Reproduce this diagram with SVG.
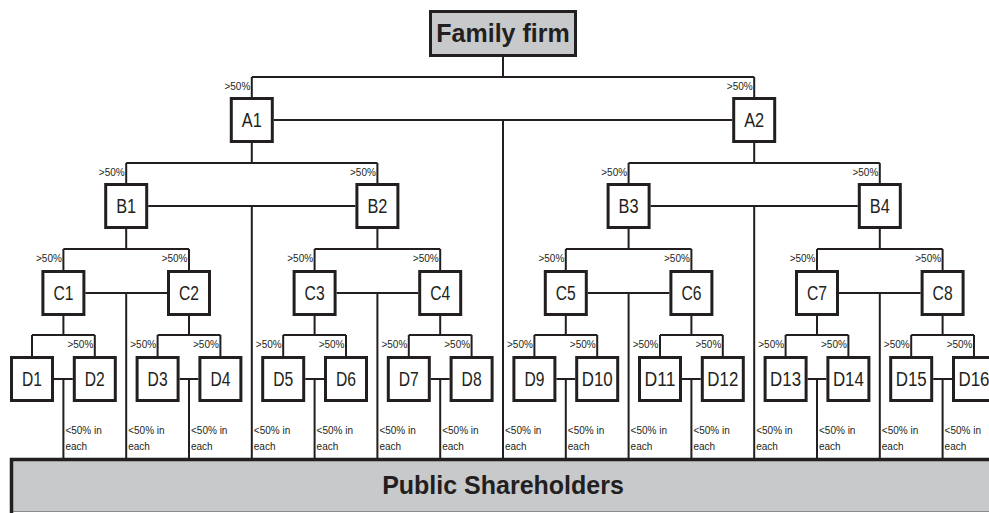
<svg xmlns="http://www.w3.org/2000/svg" width="989" height="513" viewBox="0 0 989 513">
<style>
.box{fill:#fff;stroke:#231f20;stroke-width:3}
.grey{fill:#c8c9cb;stroke:#231f20;stroke-width:3}
.ln{fill:none;stroke:#231f20;stroke-width:2}
.nl{font-family:"Liberation Sans",Arial,sans-serif;font-size:20px;fill:#231f20;text-anchor:middle}
.big{font-family:"Liberation Sans",Arial,sans-serif;font-size:25px;font-weight:bold;fill:#231f20;text-anchor:middle}
.pct{font-family:"Liberation Sans",Arial,sans-serif;font-size:10px;fill:#231f20;text-anchor:end}
.lt{font-family:"Liberation Sans",Arial,sans-serif;font-size:10px;fill:#231f20}
</style>
<rect width="989" height="513" fill="#fff"/>
<g id="connectors">
<path class="ln" d="M503 57V77M251.8 77H754.2M251.8 77V97M754.2 77V97M273.8 120H732.2M503 120V458"/>
<path class="ln" d="M251.8 143V163M126.2 163H377.4M126.2 163V183M377.4 163V183M754.2 143V163M628.6 163H879.8M628.6 163V183M879.8 163V183"/>
<path class="ln" d="M148.2 206H355.4M251.8 206V458M650.6 206H857.8M754.2 206V458"/>
<path class="ln" d="M126.2 229V249M63.4 249H189M63.4 249V270M189 249V270M377.4 229V249M314.6 249H440.2M314.6 249V270M440.2 249V270M628.6 229V249M565.8 249H691.4M565.8 249V270M691.4 249V270M879.8 229V249M817 249H942.6M817 249V270M942.6 249V270"/>
<path class="ln" d="M85.4 293H167M126.2 293V458M336.6 293H418.2M377.4 293V458M587.8 293H669.4M628.6 293V458M839 293H920.6M879.8 293V458"/>
<path class="ln" d="M63.4 316V335M32 335H94.8M32 335V356M94.8 335V356M189 316V335M157.6 335H220.4M157.6 335V356M220.4 335V356M314.6 316V335M283.2 335H346M283.2 335V356M346 335V356M440.2 316V335M408.8 335H471.6M408.8 335V356M471.6 335V356M565.8 316V335M534.4 335H597.2M534.4 335V356M597.2 335V356M691.4 316V335M660 335H722.8M660 335V356M722.8 335V356M817 316V335M785.6 335H848.4M785.6 335V356M848.4 335V356M942.6 316V335M911.2 335H974M911.2 335V356M974 335V356"/>
<path class="ln" d="M54 379H72.8M63.4 379V458M179.6 379H198.4M189 379V458M305.2 379H324M314.6 379V458M430.8 379H449.6M440.2 379V458M556.4 379H575.2M565.8 379V458M682 379H700.8M691.4 379V458M807.6 379H826.4M817 379V458M933.2 379H952M942.6 379V458"/>
</g>
<g id="ownership-labels">
<text class="pct" x="250.3" y="89.5">&gt;50%</text><text class="pct" x="752.7" y="89.5">&gt;50%</text>
<text class="pct" x="124.7" y="175.5">&gt;50%</text><text class="pct" x="375.9" y="175.5">&gt;50%</text><text class="pct" x="627.1" y="175.5">&gt;50%</text><text class="pct" x="878.3" y="175.5">&gt;50%</text>
<text class="pct" x="61.9" y="261.5">&gt;50%</text><text class="pct" x="187.5" y="261.5">&gt;50%</text><text class="pct" x="313.1" y="261.5">&gt;50%</text><text class="pct" x="438.7" y="261.5">&gt;50%</text><text class="pct" x="564.3" y="261.5">&gt;50%</text><text class="pct" x="689.9" y="261.5">&gt;50%</text><text class="pct" x="815.5" y="261.5">&gt;50%</text><text class="pct" x="941.1" y="261.5">&gt;50%</text>
<text class="pct" x="93.3" y="348">&gt;50%</text><text class="pct" x="156.1" y="348">&gt;50%</text><text class="pct" x="218.9" y="348">&gt;50%</text><text class="pct" x="281.7" y="348">&gt;50%</text><text class="pct" x="344.5" y="348">&gt;50%</text><text class="pct" x="407.3" y="348">&gt;50%</text><text class="pct" x="470.1" y="348">&gt;50%</text><text class="pct" x="532.9" y="348">&gt;50%</text><text class="pct" x="595.7" y="348">&gt;50%</text><text class="pct" x="658.5" y="348">&gt;50%</text><text class="pct" x="721.3" y="348">&gt;50%</text><text class="pct" x="784.1" y="348">&gt;50%</text><text class="pct" x="846.9" y="348">&gt;50%</text><text class="pct" x="909.7" y="348">&gt;50%</text><text class="pct" x="972.5" y="348">&gt;50%</text>
<g class="lt">
<text x="65.4" y="434">&lt;50% in</text><text x="65.4" y="450">each</text>
<text x="128.2" y="434">&lt;50% in</text><text x="128.2" y="450">each</text>
<text x="191" y="434">&lt;50% in</text><text x="191" y="450">each</text>
<text x="253.8" y="434">&lt;50% in</text><text x="253.8" y="450">each</text>
<text x="316.6" y="434">&lt;50% in</text><text x="316.6" y="450">each</text>
<text x="379.4" y="434">&lt;50% in</text><text x="379.4" y="450">each</text>
<text x="442.2" y="434">&lt;50% in</text><text x="442.2" y="450">each</text>
<text x="505" y="434">&lt;50% in</text><text x="505" y="450">each</text>
<text x="567.8" y="434">&lt;50% in</text><text x="567.8" y="450">each</text>
<text x="630.6" y="434">&lt;50% in</text><text x="630.6" y="450">each</text>
<text x="693.4" y="434">&lt;50% in</text><text x="693.4" y="450">each</text>
<text x="756.2" y="434">&lt;50% in</text><text x="756.2" y="450">each</text>
<text x="819" y="434">&lt;50% in</text><text x="819" y="450">each</text>
<text x="881.8" y="434">&lt;50% in</text><text x="881.8" y="450">each</text>
<text x="944.6" y="434">&lt;50% in</text><text x="944.6" y="450">each</text>
</g>
</g>
<g id="family-firm"><rect class="grey" x="430.5" y="11.5" width="145" height="44"/><text class="big" x="503" y="42">Family firm</text></g>
<g id="A1"><rect class="box" x="231.3" y="98.5" width="41" height="43"/><text class="nl" x="251.8" y="126.5" textLength="20" lengthAdjust="spacingAndGlyphs">A1</text></g>
<g id="A2"><rect class="box" x="733.7" y="98.5" width="41" height="43"/><text class="nl" x="754.2" y="126.5" textLength="20" lengthAdjust="spacingAndGlyphs">A2</text></g>
<g id="B1"><rect class="box" x="105.7" y="184.5" width="41" height="43"/><text class="nl" x="126.2" y="212.5" textLength="20" lengthAdjust="spacingAndGlyphs">B1</text></g>
<g id="B2"><rect class="box" x="356.9" y="184.5" width="41" height="43"/><text class="nl" x="377.4" y="212.5" textLength="20" lengthAdjust="spacingAndGlyphs">B2</text></g>
<g id="B3"><rect class="box" x="608.1" y="184.5" width="41" height="43"/><text class="nl" x="628.6" y="212.5" textLength="20" lengthAdjust="spacingAndGlyphs">B3</text></g>
<g id="B4"><rect class="box" x="859.3" y="184.5" width="41" height="43"/><text class="nl" x="879.8" y="212.5" textLength="20" lengthAdjust="spacingAndGlyphs">B4</text></g>
<g id="C1"><rect class="box" x="42.9" y="271.5" width="41" height="43"/><text class="nl" x="63.4" y="299.5" textLength="20" lengthAdjust="spacingAndGlyphs">C1</text></g>
<g id="C2"><rect class="box" x="168.5" y="271.5" width="41" height="43"/><text class="nl" x="189" y="299.5" textLength="20" lengthAdjust="spacingAndGlyphs">C2</text></g>
<g id="C3"><rect class="box" x="294.1" y="271.5" width="41" height="43"/><text class="nl" x="314.6" y="299.5" textLength="20" lengthAdjust="spacingAndGlyphs">C3</text></g>
<g id="C4"><rect class="box" x="419.7" y="271.5" width="41" height="43"/><text class="nl" x="440.2" y="299.5" textLength="20" lengthAdjust="spacingAndGlyphs">C4</text></g>
<g id="C5"><rect class="box" x="545.3" y="271.5" width="41" height="43"/><text class="nl" x="565.8" y="299.5" textLength="20" lengthAdjust="spacingAndGlyphs">C5</text></g>
<g id="C6"><rect class="box" x="670.9" y="271.5" width="41" height="43"/><text class="nl" x="691.4" y="299.5" textLength="20" lengthAdjust="spacingAndGlyphs">C6</text></g>
<g id="C7"><rect class="box" x="796.5" y="271.5" width="41" height="43"/><text class="nl" x="817" y="299.5" textLength="20" lengthAdjust="spacingAndGlyphs">C7</text></g>
<g id="C8"><rect class="box" x="922.1" y="271.5" width="41" height="43"/><text class="nl" x="942.6" y="299.5" textLength="20" lengthAdjust="spacingAndGlyphs">C8</text></g>
<g id="D1"><rect class="box" x="11.5" y="357.5" width="41" height="43"/><text class="nl" x="32" y="385.5" textLength="20" lengthAdjust="spacingAndGlyphs">D1</text></g>
<g id="D2"><rect class="box" x="74.3" y="357.5" width="41" height="43"/><text class="nl" x="94.8" y="385.5" textLength="20" lengthAdjust="spacingAndGlyphs">D2</text></g>
<g id="D3"><rect class="box" x="137.1" y="357.5" width="41" height="43"/><text class="nl" x="157.6" y="385.5" textLength="20" lengthAdjust="spacingAndGlyphs">D3</text></g>
<g id="D4"><rect class="box" x="199.9" y="357.5" width="41" height="43"/><text class="nl" x="220.4" y="385.5" textLength="20" lengthAdjust="spacingAndGlyphs">D4</text></g>
<g id="D5"><rect class="box" x="262.7" y="357.5" width="41" height="43"/><text class="nl" x="283.2" y="385.5" textLength="20" lengthAdjust="spacingAndGlyphs">D5</text></g>
<g id="D6"><rect class="box" x="325.5" y="357.5" width="41" height="43"/><text class="nl" x="346" y="385.5" textLength="20" lengthAdjust="spacingAndGlyphs">D6</text></g>
<g id="D7"><rect class="box" x="388.3" y="357.5" width="41" height="43"/><text class="nl" x="408.8" y="385.5" textLength="20" lengthAdjust="spacingAndGlyphs">D7</text></g>
<g id="D8"><rect class="box" x="451.1" y="357.5" width="41" height="43"/><text class="nl" x="471.6" y="385.5" textLength="20" lengthAdjust="spacingAndGlyphs">D8</text></g>
<g id="D9"><rect class="box" x="513.9" y="357.5" width="41" height="43"/><text class="nl" x="534.4" y="385.5" textLength="20" lengthAdjust="spacingAndGlyphs">D9</text></g>
<g id="D10"><rect class="box" x="576.7" y="357.5" width="41" height="43"/><text class="nl" x="597.2" y="385.5" textLength="31" lengthAdjust="spacingAndGlyphs">D10</text></g>
<g id="D11"><rect class="box" x="639.5" y="357.5" width="41" height="43"/><text class="nl" x="660" y="385.5" textLength="31" lengthAdjust="spacingAndGlyphs">D11</text></g>
<g id="D12"><rect class="box" x="702.3" y="357.5" width="41" height="43"/><text class="nl" x="722.8" y="385.5" textLength="31" lengthAdjust="spacingAndGlyphs">D12</text></g>
<g id="D13"><rect class="box" x="765.1" y="357.5" width="41" height="43"/><text class="nl" x="785.6" y="385.5" textLength="31" lengthAdjust="spacingAndGlyphs">D13</text></g>
<g id="D14"><rect class="box" x="827.9" y="357.5" width="41" height="43"/><text class="nl" x="848.4" y="385.5" textLength="31" lengthAdjust="spacingAndGlyphs">D14</text></g>
<g id="D15"><rect class="box" x="890.7" y="357.5" width="41" height="43"/><text class="nl" x="911.2" y="385.5" textLength="31" lengthAdjust="spacingAndGlyphs">D15</text></g>
<g id="D16"><rect class="box" x="953.5" y="357.5" width="41" height="43"/><text class="nl" x="974" y="385.5" textLength="31" lengthAdjust="spacingAndGlyphs">D16</text></g>
<g id="public-shareholders">
<rect x="11" y="459" width="990" height="53" fill="#c8c9cb"/>
<path d="M11 511.5H995" fill="none" stroke="#8a8a8c" stroke-width="1"/>
<path d="M11.5 513V459.5H995" fill="none" stroke="#231f20" stroke-width="3.5"/>
<text class="big" x="503" y="494">Public Shareholders</text>
</g>
</svg>
